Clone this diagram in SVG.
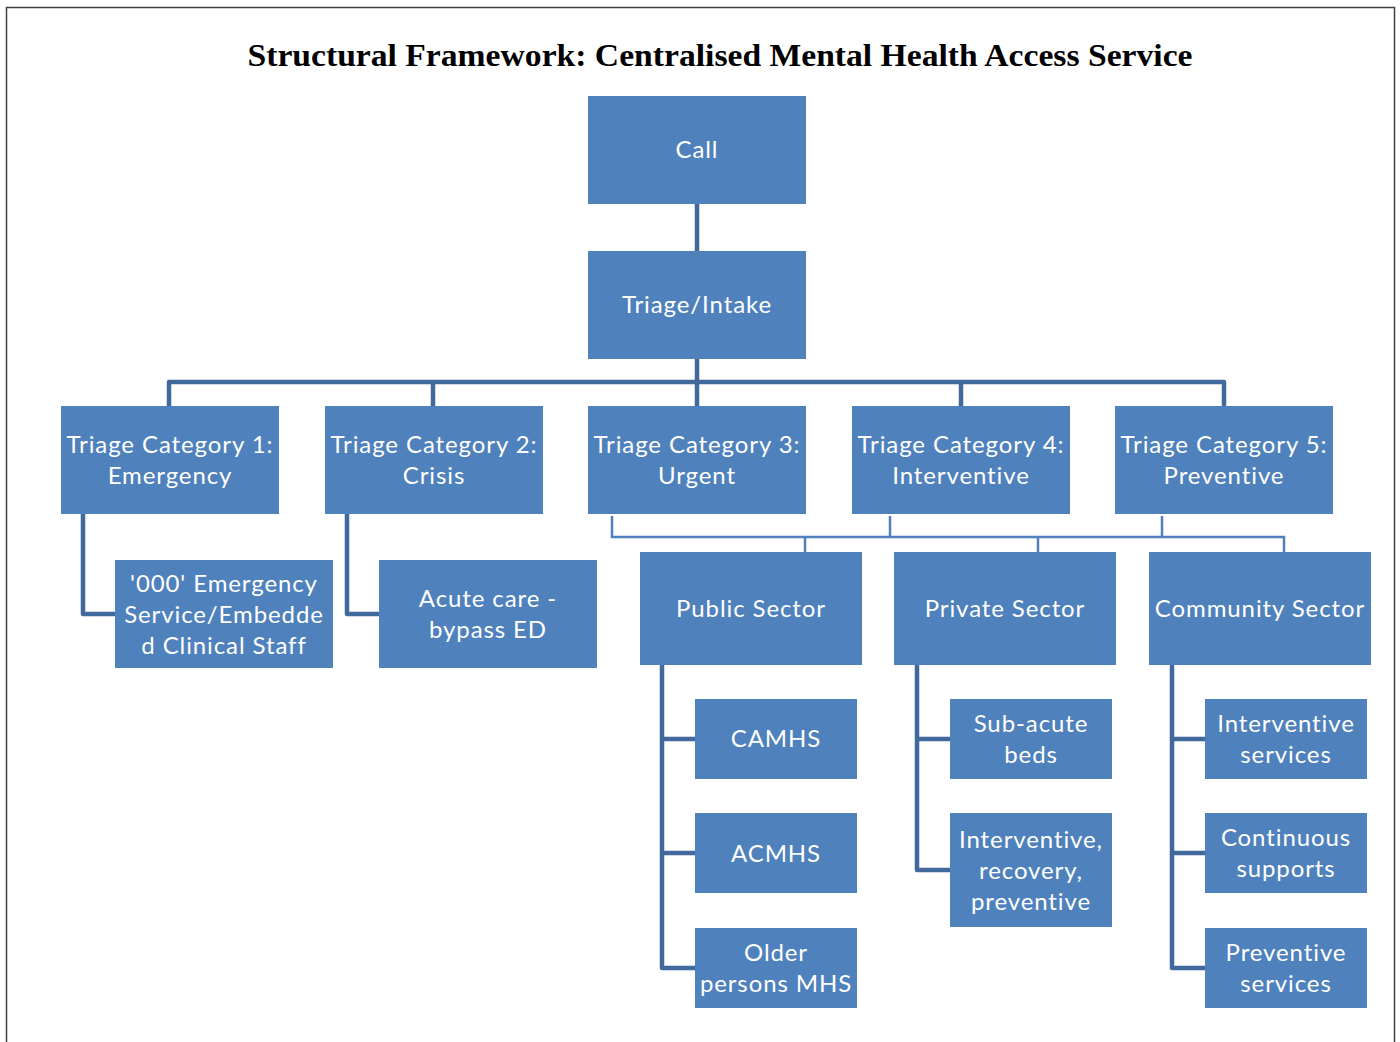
<svg xmlns="http://www.w3.org/2000/svg" width="1400" height="1042" viewBox="0 0 1400 1042">
  <style>
    .box { fill: #4f81bd; }
    .lbl { font-family: Lato, "Open Sans", sans-serif; font-size: 24px; fill: #ffffff; text-anchor: middle; letter-spacing: 0.9px; }
    .title { font-family: "Liberation Serif", serif; font-weight: bold; font-size: 31px; fill: #000000; text-anchor: middle; }
    .thick { fill: none; stroke: #41699b; stroke-width: 4.5; stroke-linejoin: round; }
    .thin { fill: none; stroke: #4f81bd; stroke-width: 2.5; }
  </style>
  <rect x="0" y="0" width="1400" height="1042" fill="#ffffff"/>
  <rect x="6.5" y="7.5" width="1388" height="1050" fill="none" stroke="#404040" stroke-width="1.5"/>
  <text class="title" x="720" y="66" textLength="945" lengthAdjust="spacingAndGlyphs">Structural Framework: Centralised Mental Health Access Service</text>

  <g id="connectors">
    <path class="thick" d="M697 204 V382"/>
    <path class="thick" d="M169 406 V382 H1224 V406 M433 382 V406 M697 382 V406 M961 382 V406"/>
    <path class="thick" d="M83 514 V614 H115"/>
    <path class="thick" d="M347 514 V614 H379"/>
    <path class="thin" d="M612 516 V537 H1284 V552 M890 516 V537 M1162 516 V537 M805 537 V552 M1038 537 V552"/>
    <path class="thick" d="M662 665 V968 H695 M662 739 H695 M662 853 H695"/>
    <path class="thick" d="M917 665 V870 H950 M917 739 H950"/>
    <path class="thick" d="M1172 665 V968 H1205 M1172 739 H1205 M1172 853 H1205"/>
  </g>

  <g id="call"><rect class="box" x="588" y="96" width="218" height="108"/><text class="lbl" x="697" y="158">Call</text></g>
  <g id="triage-intake"><rect class="box" x="588" y="251" width="218" height="108"/><text class="lbl" x="697" y="313">Triage/Intake</text></g>

  <g id="cat1"><rect class="box" x="61" y="406" width="218" height="108"/><text class="lbl" x="170" y="453">Triage Category 1:</text><text class="lbl" x="170" y="484">Emergency</text></g>
  <g id="cat2"><rect class="box" x="325" y="406" width="218" height="108"/><text class="lbl" x="434" y="453">Triage Category 2:</text><text class="lbl" x="434" y="484">Crisis</text></g>
  <g id="cat3"><rect class="box" x="588" y="406" width="218" height="108"/><text class="lbl" x="697" y="453">Triage Category 3:</text><text class="lbl" x="697" y="484">Urgent</text></g>
  <g id="cat4"><rect class="box" x="852" y="406" width="218" height="108"/><text class="lbl" x="961" y="453">Triage Category 4:</text><text class="lbl" x="961" y="484">Interventive</text></g>
  <g id="cat5"><rect class="box" x="1115" y="406" width="218" height="108"/><text class="lbl" x="1224" y="453">Triage Category 5:</text><text class="lbl" x="1224" y="484">Preventive</text></g>

  <g id="emergency-service"><rect class="box" x="115" y="560" width="218" height="108"/><text class="lbl" x="224" y="592">'000' Emergency</text><text class="lbl" x="224" y="623">Service/Embedde</text><text class="lbl" x="224" y="654">d Clinical Staff</text></g>
  <g id="acute-care"><rect class="box" x="379" y="560" width="218" height="108"/><text class="lbl" x="488" y="607">Acute care -</text><text class="lbl" x="488" y="638">bypass ED</text></g>

  <g id="public-sector"><rect class="box" x="640" y="552" width="222" height="113"/><text class="lbl" x="751" y="617">Public Sector</text></g>
  <g id="private-sector"><rect class="box" x="894" y="552" width="222" height="113"/><text class="lbl" x="1005" y="617">Private Sector</text></g>
  <g id="community-sector"><rect class="box" x="1149" y="552" width="222" height="113"/><text class="lbl" x="1260" y="617">Community Sector</text></g>

  <g id="camhs"><rect class="box" x="695" y="699" width="162" height="80"/><text class="lbl" x="776" y="747">CAMHS</text></g>
  <g id="acmhs"><rect class="box" x="695" y="813" width="162" height="80"/><text class="lbl" x="776" y="862">ACMHS</text></g>
  <g id="older-persons"><rect class="box" x="695" y="928" width="162" height="80"/><text class="lbl" x="776" y="961">Older</text><text class="lbl" x="776" y="992">persons MHS</text></g>

  <g id="sub-acute"><rect class="box" x="950" y="699" width="162" height="80"/><text class="lbl" x="1031" y="732">Sub-acute</text><text class="lbl" x="1031" y="763">beds</text></g>
  <g id="interventive-recovery"><rect class="box" x="950" y="813" width="162" height="114"/><text class="lbl" x="1031" y="848">Interventive,</text><text class="lbl" x="1031" y="879">recovery,</text><text class="lbl" x="1031" y="910">preventive</text></g>

  <g id="interventive-services"><rect class="box" x="1205" y="699" width="162" height="80"/><text class="lbl" x="1286" y="732">Interventive</text><text class="lbl" x="1286" y="763">services</text></g>
  <g id="continuous-supports"><rect class="box" x="1205" y="813" width="162" height="80"/><text class="lbl" x="1286" y="846">Continuous</text><text class="lbl" x="1286" y="877">supports</text></g>
  <g id="preventive-services"><rect class="box" x="1205" y="928" width="162" height="80"/><text class="lbl" x="1286" y="961">Preventive</text><text class="lbl" x="1286" y="992">services</text></g>
</svg>
